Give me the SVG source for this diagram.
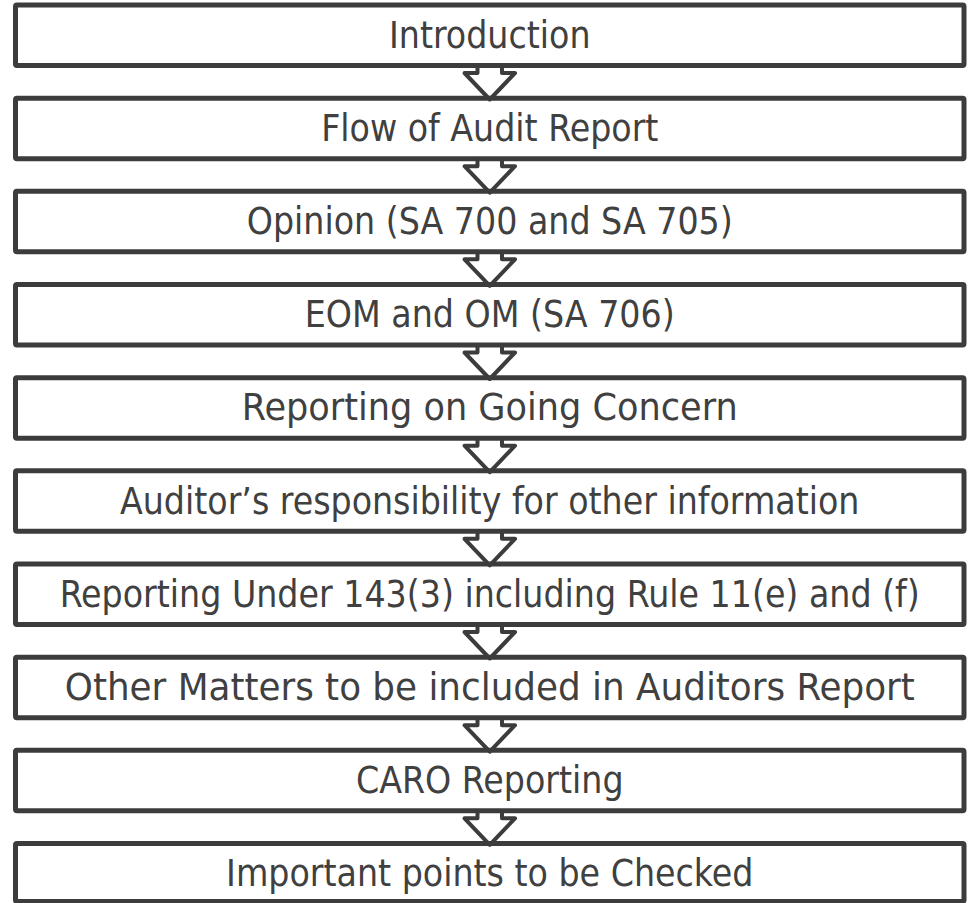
<svg xmlns="http://www.w3.org/2000/svg" width="968" height="903" viewBox="0 0 968 903">
<style>
.box{fill:#fff;stroke:#3c3c3c;stroke-width:5;}
.lbl{font-family:'DejaVu Sans Condensed','DejaVu Sans',sans-serif;font-stretch:condensed;font-size:37px;fill:#404040;text-anchor:middle;}
.arr{fill:none;stroke:#3c3c3c;stroke-width:4;stroke-linejoin:round;}
</style>
<rect width="968" height="903" fill="#fff"/>
<g id="n1"><rect class="box" x="15.5" y="5" width="948.5" height="60.5" rx="1.5"/><text class="lbl" x="489.75" y="47.7">Introduction</text></g>
<g id="n2"><rect class="box" x="15.5" y="98.2" width="948.5" height="60.5" rx="1.5"/><text class="lbl" x="489.75" y="140.9">Flow of Audit Report</text></g>
<g id="n3"><rect class="box" x="15.5" y="191.3" width="948.5" height="60.5" rx="1.5"/><text class="lbl" x="489.75" y="234">Opinion (SA 700 and SA 705)</text></g>
<g id="n4"><rect class="box" x="15.5" y="284.5" width="948.5" height="60.5" rx="1.5"/><text class="lbl" x="489.75" y="327.2">EOM and OM (SA 706)</text></g>
<g id="n5"><rect class="box" x="15.5" y="377.7" width="948.5" height="60.5" rx="1.5"/><text class="lbl" x="489.75" y="420.4" textLength="496" lengthAdjust="spacingAndGlyphs">Reporting on Going Concern</text></g>
<g id="n6"><rect class="box" x="15.5" y="470.8" width="948.5" height="60.5" rx="1.5"/><text class="lbl" x="489.75" y="513.5">Auditor’s responsibility for other information</text></g>
<g id="n7"><rect class="box" x="15.5" y="564" width="948.5" height="60.5" rx="1.5"/><text class="lbl" x="489.75" y="606.7">Reporting Under 143(3) including Rule 11(e) and (f)</text></g>
<g id="n8"><rect class="box" x="15.5" y="657.2" width="948.5" height="60.5" rx="1.5"/><text class="lbl" x="489.75" y="699.9" textLength="850" lengthAdjust="spacingAndGlyphs">Other Matters to be included in Auditors Report</text></g>
<g id="n9"><rect class="box" x="15.5" y="750.3" width="948.5" height="60.5" rx="1.5"/><text class="lbl" x="489.75" y="793">CARO Reporting</text></g>
<g id="n10"><rect class="box" x="15.5" y="843.5" width="948.5" height="58" rx="1.5"/><text class="lbl" x="489.75" y="886.2">Important points to be Checked</text></g>
<g id="connectors">
<path class="arr" d="M477.5,66 V73 H464.5 L489.75,99.5 L515,73 H502 V66"/>
<path class="arr" d="M477.5,159.2 V166.2 H464.5 L489.75,192.7 L515,166.2 H502 V159.2"/>
<path class="arr" d="M477.5,252.3 V259.3 H464.5 L489.75,285.8 L515,259.3 H502 V252.3"/>
<path class="arr" d="M477.5,345.5 V352.5 H464.5 L489.75,379 L515,352.5 H502 V345.5"/>
<path class="arr" d="M477.5,438.7 V445.7 H464.5 L489.75,472.2 L515,445.7 H502 V438.7"/>
<path class="arr" d="M477.5,531.8 V538.8 H464.5 L489.75,565.3 L515,538.8 H502 V531.8"/>
<path class="arr" d="M477.5,625 V632 H464.5 L489.75,658.5 L515,632 H502 V625"/>
<path class="arr" d="M477.5,718.2 V725.2 H464.5 L489.75,751.7 L515,725.2 H502 V718.2"/>
<path class="arr" d="M477.5,811.3 V818.3 H464.5 L489.75,844.8 L515,818.3 H502 V811.3"/>
</g>
</svg>
